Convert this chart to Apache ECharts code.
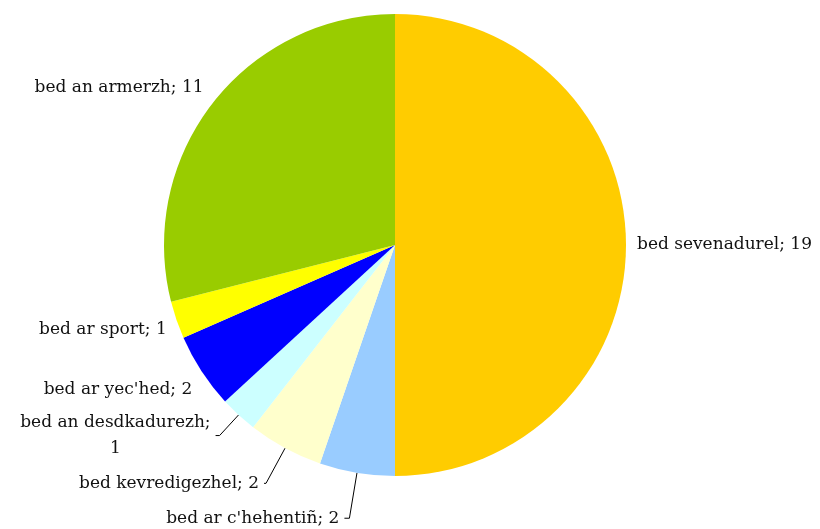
<!DOCTYPE html>
<html>
<head>
<meta charset="utf-8">
<script src="https://cdn.jsdelivr.net/npm/echarts@6/dist/echarts.min.js"></script>
<style>html,body{margin:0;padding:0;background:#fff}#c{width:820px;height:529px}</style>
</head>
<body>
<div id="c"></div>
<script>
const categories = ["bed sevenadurel", "bed ar c'hehentiñ", "bed kevredigezhel", "bed an desdkadurezh", "bed ar yec'hed", "bed ar sport", "bed an armerzh"];
const values = [19, 2, 2, 1, 2, 1, 11];
const colors = ["#ffcc00", "#99ccff", "#ffffcc", "#ccffff", "#0000ff", "#ffff00", "#99cc00"];

// per-slice label placement styling (not data)
const labelStyles = [
  { line: false, len: 3, len2: 3, dy: 0 },
  { line: true, len: 46, len2: 5, dy: 0 },
  { line: true, len: 40, len2: 2, dy: 0 },
  { line: true, len: 28, len2: 4, dy: 0, wrap: true },
  { line: false, len: 4, len2: 1, dy: 16 },
  { line: false, len: 4, len2: 1, dy: 8 },
  { line: false, len: 4, len2: 1, dy: -13 }
];

const data = categories.map((name, i) => {
  const s = labelStyles[i];
  const item = {
    name: name,
    value: values[i],
    itemStyle: { color: colors[i] },
    labelLine: { show: s.line, length: s.len, length2: s.len2 },
    label: {}
  };
  if (s.wrap) {
    item.label.formatter = function (p) { return '{a|' + p.name + ';}\n{b|' + p.value + '}'; };
    item.label.rich = {
      a: { fontFamily: 'DejaVu Serif', fontSize: 17, color: '#111', lineHeight: 26 },
      b: { fontFamily: 'DejaVu Serif', fontSize: 17, color: '#111', lineHeight: 26, align: 'center' }
    };
  }
  return item;
});

const chart = echarts.init(document.getElementById('c'), null, { renderer: 'canvas' });
chart.setOption({
  animation: false,
  backgroundColor: '#fff',
  series: [{
    type: 'pie',
    center: [395, 245],
    radius: 231,
    startAngle: 90,
    clockwise: true,
    avoidLabelOverlap: false,
    data: data,
    itemStyle: { borderWidth: 0 },
    label: {
      show: true,
      position: 'outside',
      formatter: '{b}; {c}',
      fontFamily: 'DejaVu Serif',
      fontSize: 17,
      color: '#111',
      distanceToLabelLine: 5
    },
    labelLine: {
      lineStyle: { color: '#000', width: 1 },
      smooth: false
    },
    labelLayout: function (p) {
      const s = labelStyles[p.dataIndex];
      return s.dy ? { dy: s.dy } : {};
    },
    emphasis: { disabled: true }
  }]
});
</script>
</body>
</html>
